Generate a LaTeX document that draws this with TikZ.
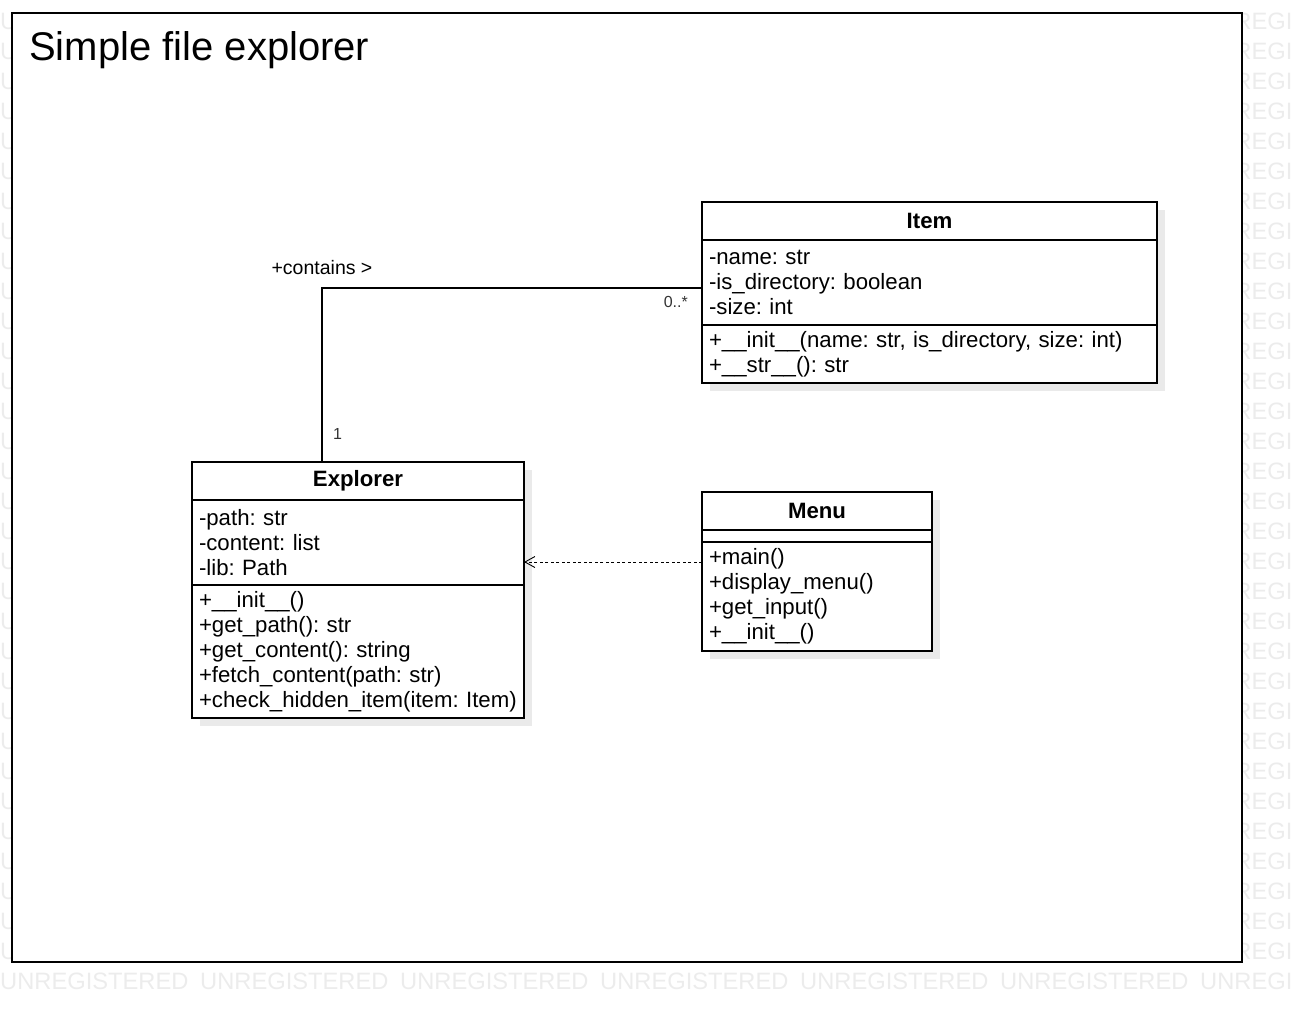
\documentclass[tikz,border=0pt]{standalone}
\usepackage{fontspec}
\setmainfont{Liberation Sans}
\usepackage{tikz}
\usetikzlibrary{positioning,arrows.meta,calc}
\pgfdeclarelayer{bg}
\pgfdeclarelayer{shade}
\pgfsetlayers{bg,shade,main}
\definecolor{shadowgray}{RGB}{234,234,234}
\definecolor{markgray}{RGB}{236,236,236}
\newcommand{\umlfont}{\fontsize{22.2}{25}\selectfont}
\frenchspacing

\tikzset{
  classhead/.style={draw=black, fill=white, line width=1.2pt, outer sep=0pt, inner ysep=0pt, inner xsep=7pt,
      align=center, minimum height=38pt, font=\bfseries\umlfont},
  classpart/.style={draw=black, fill=white, line width=1.2pt, outer sep=0pt, inner ysep=0pt, inner xsep=7pt,
      align=left, font=\umlfont},
  assoc/.style={draw=black, line width=1.1pt},
  dep/.style={draw=black, line width=0.9pt, dash pattern=on 3pt off 2.5pt,
      -{Straight Barb[length=10pt,width=11pt,line width=0.9pt]}},
  rolelabel/.style={inner sep=0pt, font=\fontsize{19.5}{22}\selectfont},
  multlabel/.style={inner sep=0pt, text=black!80, font=\fontsize{16}{18}\selectfont},
  watermark/.style={anchor=west, inner sep=0pt, text=markgray, font=\fontsize{23.7}{24}\selectfont}
}

\begin{document}
\begin{tikzpicture}[x=1pt,y=1pt,yscale=-1,xscale=1]
  \useasboundingbox (0,0) rectangle (1292,1012);
  % Watermark and frame
  \begin{pgfonlayer}{bg}
    \foreach \row in {0,...,32}
      \foreach \col in {0,...,6}
        \node[watermark] (wm-\row-\col) at (\col*200, 21+\row*30) {UNREGISTERED};
    \node[draw=black, fill=white, line width=1.5pt, outer sep=0pt, minimum width=1230pt,
        minimum height=949pt, anchor=north west] (frame) at (12,13) {};
  \end{pgfonlayer}
  % Text Node
  \node[anchor=base west, inner sep=0pt, font=\fontsize{40}{48}\selectfont] (title) at (29,60) {Simple file explorer};

  %Class Item
  \node[classhead, text width=441pt, anchor=north west] (item-h) at (702,202) {Item};
  \node[classpart, text width=441pt, minimum height=85pt, below=0pt of item-h] (item-a)
      {-name: str\\-is\_directory: boolean\\-size: int};
  \node[classpart, text width=441pt, minimum height=58pt, below=0pt of item-a] (item-m)
      {+\_\_init\_\_(name: str, is\_directory, size: int)\\+\_\_str\_\_(): str};

  %Class Explorer
  \node[classhead, text width=318pt, anchor=north west] (explorer-h) at (192,462) {Explorer};
  \node[classpart, text width=318pt, minimum height=85pt, below=0pt of explorer-h] (explorer-a)
      {-path: str\\-content: list\\-lib: Path};
  \node[classpart, text width=318pt, minimum height=133pt, below=0pt of explorer-a] (explorer-m)
      {+\_\_init\_\_()\\+get\_path(): str\\+get\_content(): string\\+fetch\_content(path: str)\\+check\_hidden\_item(item:~Item)};

  %Class Menu
  \node[classhead, text width=216pt, anchor=north west] (menu-h) at (702,492) {Menu};
  \node[classpart, text width=216pt, minimum height=12pt, below=0pt of menu-h] (menu-a) {};
  \node[classpart, text width=216pt, minimum height=109pt, below=0pt of menu-a] (menu-m)
      {+main()\\+display\_menu()\\+get\_input()\\+\_\_init\_\_()};

  % Shadows
  \begin{pgfonlayer}{shade}
    \fill[shadowgray] ($(item-h.north west)+(8,8)$) rectangle ($(item-m.south east)+(8,8)$);
    \fill[shadowgray] ($(explorer-h.north west)+(8,8)$) rectangle ($(explorer-m.south east)+(8,8)$);
    \fill[shadowgray] ($(menu-h.north west)+(8,8)$) rectangle ($(menu-m.south east)+(8,8)$);
  \end{pgfonlayer}

  %Association
  \coordinate (c-start) at ($(explorer-h.north west)+(130,0)$);
  \coordinate (c-end) at ($(item-a.north west)+(0,48)$);
  \draw[assoc] (c-start) |- (c-end) coordinate[pos=0.5] (c-corner);
  \node[rolelabel, anchor=base] (contains) at ($(c-corner)+(0,-14)$) {+contains >};
  \node[multlabel, anchor=base east] (mult-item) at ($(c-end)+(-14,19)$) {0..*};
  \node[multlabel, anchor=base west] (mult-explorer) at ($(c-start)+(11,-23)$) {1};

  %Dependency
  \coordinate (d-start) at ($(menu-m.north west)+(0,20)$);
  \draw[dep] (d-start) -- (d-start -| explorer-a.east);
\end{tikzpicture}
\end{document}
